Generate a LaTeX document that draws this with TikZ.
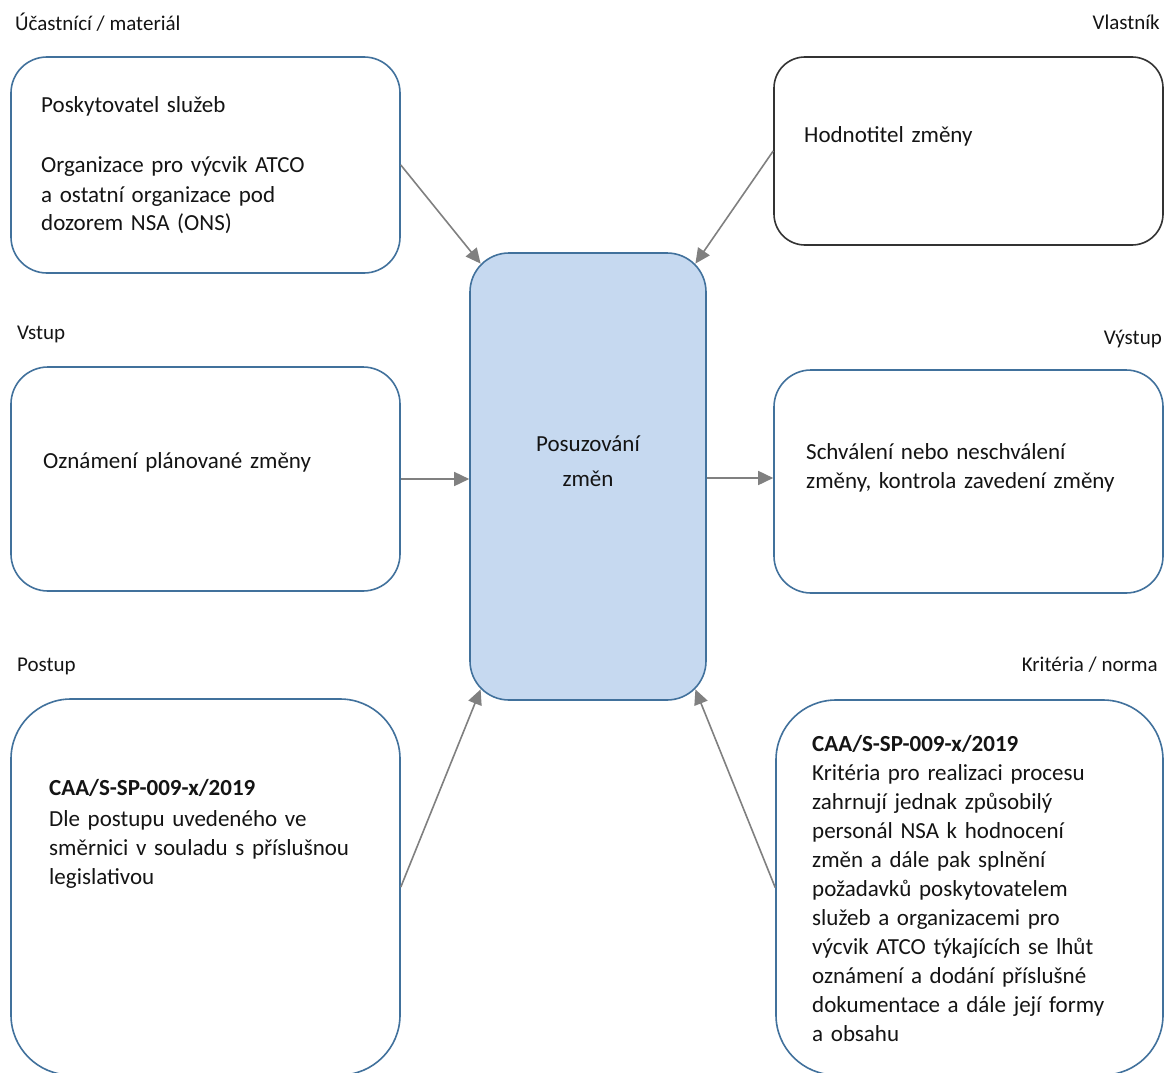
\documentclass[tikz,border=0pt]{standalone}
\usepackage{fontspec}
\setmainfont{Carlito}
\usetikzlibrary{arrows.meta,calc}
\definecolor{boxblue}{HTML}{41719C}
\definecolor{fillblue}{HTML}{C6D9F0}
\definecolor{arrgray}{HTML}{808080}
\definecolor{txtcol}{HTML}{141414}
\tikzset{
  box/.style={draw=boxblue, line width=1.6pt, fill=white, inner sep=0pt},
  ownbox/.style={draw=black!80, line width=1.6pt, fill=white, inner sep=0pt},
  mainbox/.style={draw=boxblue, line width=1.6pt, fill=fillblue, inner sep=0pt},
  arr/.style={draw=arrgray, line width=1.6pt, -{Triangle[length=15pt,width=14pt]}, arrgray},
  txt/.style={font=\fontsize{23}{29}\selectfont, text=txtcol, inner sep=0pt, text width=370pt, align=left},
  lbl/.style={font=\fontsize{21}{25}\selectfont, text=txtcol, inner sep=0pt},
}
\begin{document}
\begin{tikzpicture}[x=1pt,y=-1pt]
\useasboundingbox (0,0) rectangle (1165,1073);
\fill[white] (0,0) rectangle (1165,1073);
% boxes
\node[box, minimum width=389pt, minimum height=216pt, rounded corners=36pt] (p) at (205.5,165) {};
\node[ownbox, minimum width=389pt, minimum height=188pt, rounded corners=31pt] (own) at (968.5,151) {};
\node[mainbox, minimum width=236pt, minimum height=447pt, rounded corners=39pt] (c) at (588,476.5) {};
\node[box, minimum width=389pt, minimum height=224pt, rounded corners=37pt] (in) at (205.5,479) {};
\node[box, minimum width=389pt, minimum height=223pt, rounded corners=37pt] (out) at (968.5,481.5) {};
\node[box, minimum width=389pt, minimum height=376pt, rounded corners=60pt] (proc) at (205.5,887) {};
\node[box, minimum width=387pt, minimum height=375pt, rounded corners=60pt] (crit) at (969.5,887.5) {};
% connectors
\draw[arr] (p.east) -- ([shift={(11.4,11.4)}]c.north west);
\draw[arr] (own.west) -- ([shift={(-11.4,11.4)}]c.north east);
\draw[arr] (in.east) -- (in.east -| c.west);
\draw[arr] ([yshift=-1.5pt]c.east) -- ([yshift=-1.5pt]c.east -| out.west);
\draw[arr] (proc.east) -- ([shift={(11.4,-11.4)}]c.south west);
\draw[arr] (crit.west) -- ([shift={(-11.4,-11.4)}]c.south east);
% labels
\node[lbl, anchor=base west] (l1) at (15,31) {Účastnící / materiál};
\node[lbl, anchor=base east] (l2) at (1160,30) {Vlastník};
\node[lbl, anchor=base west] (l3) at (17,339) {Vstup};
\node[lbl, anchor=base east] (l4) at (1162,344) {Výstup};
\node[lbl, anchor=base west] (l5) at (17,671) {Postup};
\node[lbl, anchor=base east] (l6) at (1158,671) {Kritéria / norma};
% texts
\node[txt, anchor=base west] (tp) at (41,113) {Poskytovatel  služeb\\[31pt]Organizace pro výcvik  ATCO\\a ostatní organizace pod\\dozorem NSA (ONS)};
\node[txt, anchor=base west] (town) at (804,142) {Hodnotitel změny};
\node[txt, anchor=base, text width=220pt, align=center, font=\fontsize{23}{29}\selectfont] (tc) at (588,451) {Posuzování\\[6pt]změn};
\node[txt, anchor=base west] (tin) at (43,468) {Oznámení plánované změny};
\node[txt, anchor=base west] (tout) at (806,459) {Schválení nebo neschválení\\změny, kontrola zavedení změny};
\node[txt, anchor=base west] (tproc) at (49,795) {\textbf{CAA/S-SP-009-x/2019}\\[2pt]Dle postupu uvedeného ve\\směrnici v souladu s příslušnou\\legislativou};
\node[txt, anchor=base west] (tcrit) at (812,751) {\textbf{CAA/S-SP-009-x/2019}\\Kritéria pro realizaci procesu\\zahrnují jednak způsobilý\\personál NSA k hodnocení\\změn a dále pak splnění\\požadavků poskytovatelem\\služeb a organizacemi pro\\výcvik ATCO týkajících se lhůt\\oznámení a dodání příslušné\\dokumentace a dále její formy\\a obsahu};
\end{tikzpicture}
\end{document}
